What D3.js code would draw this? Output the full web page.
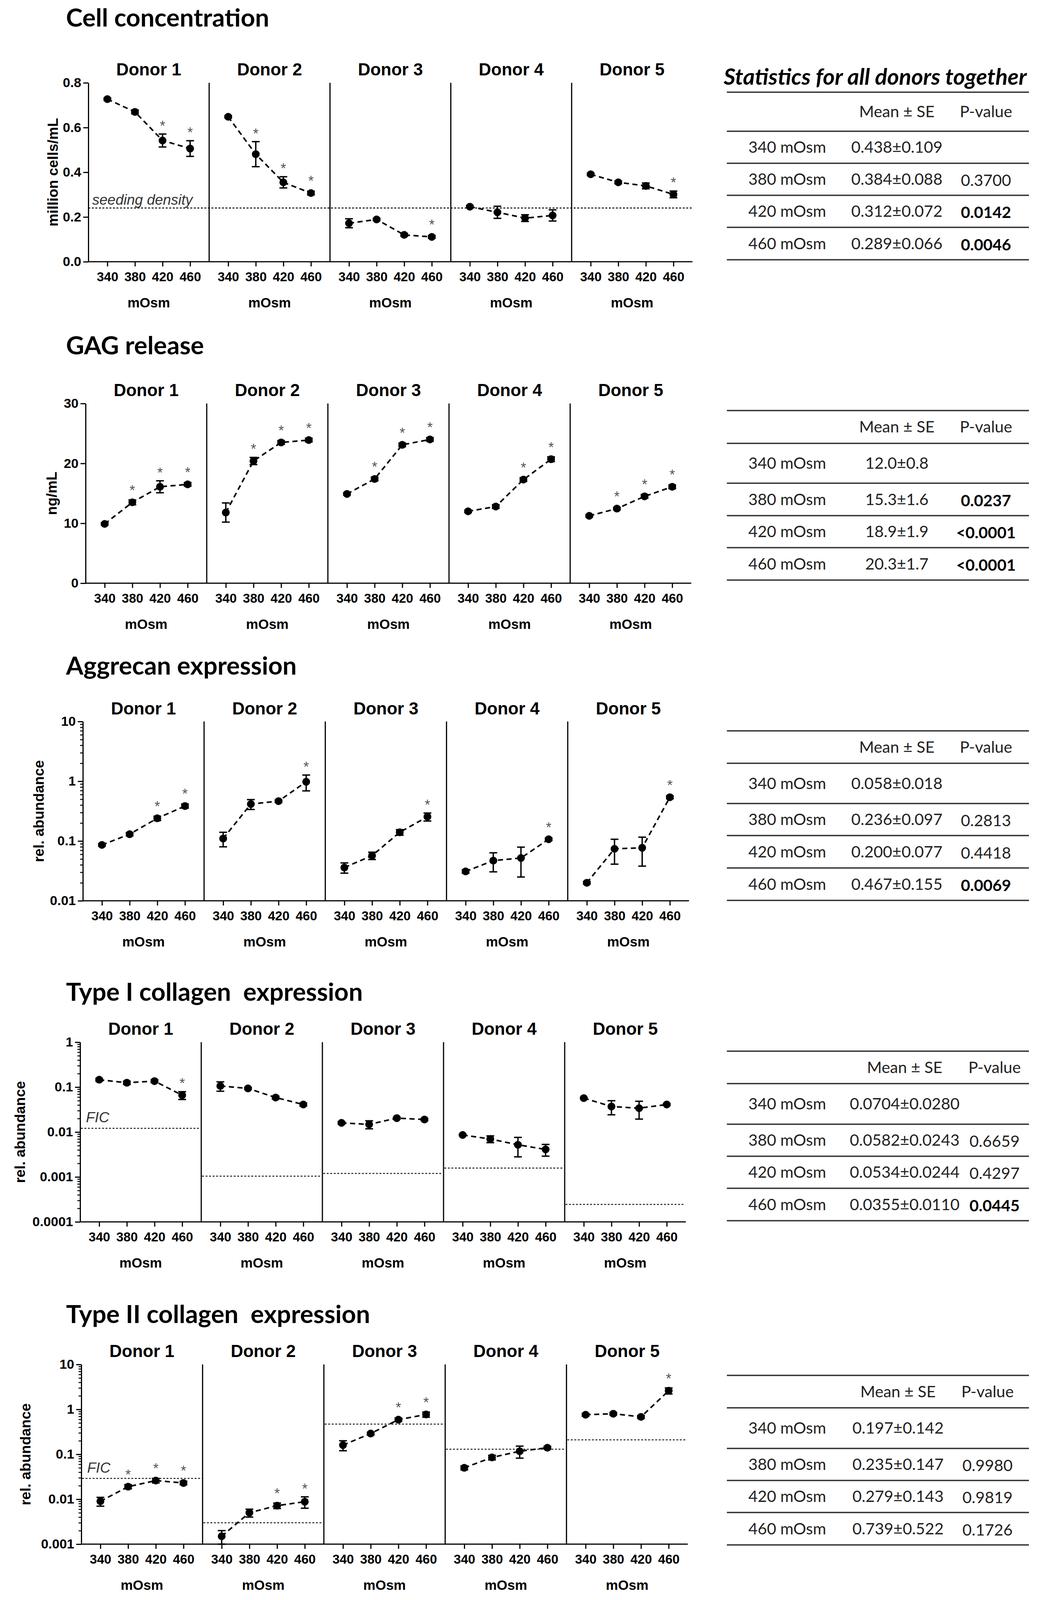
<html>
<head>
<script src="https://d3js.org/d3.v7.min.js"></script>
<style>
  body { margin: 0; background: #fff; }
  .rowtitle { font-family: Lato, "Open Sans", sans-serif; font-weight: bold; font-size: 64px; fill: #000; white-space: pre; }
  .ax text { font-family: "Liberation Sans", Arial, sans-serif; font-weight: bold; font-size: 34px; fill: #000; }
  .donor { font-family: "Liberation Sans", Arial, sans-serif; font-weight: bold; font-size: 44px; }
  .xlab { font-family: "Liberation Sans", Arial, sans-serif; font-weight: bold; font-size: 35px; }
  .ylab { font-family: "Liberation Sans", Arial, sans-serif; font-weight: bold; font-size: 37px; }
  .star { font-family: "Liberation Sans", Arial, sans-serif; font-size: 36px; fill: #555; }
  .note { font-family: "Liberation Sans", Arial, sans-serif; font-style: italic; font-size: 37px; fill: #333; }
  .tab { font-family: Lato, "Open Sans", sans-serif; font-size: 41px; fill: #222; }
  .tabtitle { font-family: Lato, "Open Sans", sans-serif; font-size: 58px; font-weight: bold; font-style: italic; }
</style>
</head>
<body>
<script>
// ---- data ----
var doses = ["340", "380", "420", "460"];
var donorNames = ["Donor 1", "Donor 2", "Donor 3", "Donor 4", "Donor 5"];

var cellTicks = [0, 0.2, 0.4, 0.6, 0.8];
var cellMean = [[0.727, 0.670, 0.542, 0.506], [0.648, 0.481, 0.355, 0.307], [0.172, 0.189, 0.120, 0.111], [0.246, 0.221, 0.195, 0.207], [0.391, 0.355, 0.339, 0.301]];
var cellSE = [[0.005, 0.008, 0.029, 0.035], [0.005, 0.056, 0.025, 0.008], [0.02, 0.005, 0.006, 0.006], [0.005, 0.027, 0.015, 0.025], [0.005, 0.006, 0.013, 0.015]];
var cellSig = [[0, 0, 1, 1], [0, 1, 1, 1], [0, 0, 0, 1], [0, 0, 0, 0], [0, 0, 0, 1]];
var seedingDensity = 0.24;

var gagTicks = [0, 10, 20, 30];
var gagMean = [[9.9, 13.5, 16.1, 16.5], [11.8, 20.4, 23.5, 23.9], [14.9, 17.4, 23.1, 24.0], [12.0, 12.8, 17.3, 20.7], [11.25, 12.45, 14.5, 16.1]];
var gagSE = [[0.2, 0.4, 1.0, 0.3], [1.6, 0.6, 0.3, 0.3], [0.2, 0.3, 0.3, 0.3], [0.2, 0.3, 0.3, 0.4], [0.2, 0.2, 0.3, 0.3]];
var gagSig = [[0, 1, 1, 1], [0, 1, 1, 1], [0, 1, 1, 1], [0, 0, 1, 1], [0, 1, 1, 1]];

var aggTicks = [0.01, 0.1, 1, 10];
var aggMean = [[0.086, 0.130, 0.240, 0.385], [0.110, 0.415, 0.465, 0.98], [0.036, 0.057, 0.140, 0.255], [0.031, 0.047, 0.052, 0.107], [0.020, 0.074, 0.077, 0.54]];
var aggSE = [[0.004, 0.008, 0.02, 0.03], [0.03, 0.078, 0.02, 0.29], [0.007, 0.008, 0.015, 0.039], [0.002, 0.0165, 0.027, 0.005], [0.001, 0.033, 0.039, 0.03]];
var aggSig = [[0, 0, 1, 1], [0, 0, 0, 1], [0, 0, 0, 1], [0, 0, 0, 1], [0, 0, 0, 1]];

var col1Ticks = [0.0001, 0.001, 0.01, 0.1, 1];
var col1Mean = [[0.146, 0.125, 0.136, 0.066], [0.106, 0.0935, 0.0586, 0.041], [0.016, 0.0148, 0.0204, 0.019], [0.0086, 0.0070, 0.0052, 0.0041], [0.0569, 0.037, 0.0339, 0.041]];
var col1SE = [[0.01, 0.01, 0.01, 0.013], [0.025, 0.005, 0.004, 0.003], [0.001, 0.003, 0.001, 0.001], [0.0003, 0.0012, 0.0024, 0.0012], [0.002, 0.0128, 0.0145, 0.002]];
var col1Sig = [[0, 0, 0, 1], [0, 0, 0, 0], [0, 0, 0, 0], [0, 0, 0, 0], [0, 0, 0, 0]];
var col1FIC = [0.0121, 0.00104, 0.0012, 0.00158, 0.000245];

var col2Ticks = [0.001, 0.01, 0.1, 1, 10];
var col2Mean = [[0.009, 0.019, 0.026, 0.023], [0.0015, 0.005, 0.0072, 0.0088], [0.16, 0.29, 0.59, 0.77], [0.050, 0.085, 0.117, 0.14], [0.76, 0.8, 0.68, 2.6]];
var col2SE = [[0.002, 0.002, 0.003, 0.002], [0.0005, 0.001, 0.001, 0.0025], [0.04, 0.02, 0.05, 0.1], [0.005, 0.01, 0.035, 0.01], [0.05, 0.05, 0.05, 0.4]];
var col2Sig = [[0, 1, 1, 1], [0, 0, 1, 1], [0, 0, 1, 1], [0, 0, 0, 0], [0, 0, 0, 1]];
var col2FIC = [0.029, 0.003, 0.47, 0.13, 0.21];

var statLabels = ["340 mOsm", "380 mOsm", "420 mOsm", "460 mOsm"];
var cellStat = ["0.438±0.109", "0.384±0.088", "0.312±0.072", "0.289±0.066"];
var cellP = ["", "0.3700", "0.0142", "0.0046"];
var gagStat = ["12.0±0.8", "15.3±1.6", "18.9±1.9", "20.3±1.7"];
var gagP = ["", "0.0237", "<0.0001", "<0.0001"];
var aggStat = ["0.058±0.018", "0.236±0.097", "0.200±0.077", "0.467±0.155"];
var aggP = ["", "0.2813", "0.4418", "0.0069"];
var col1Stat = ["0.0704±0.0280", "0.0582±0.0243", "0.0534±0.0244", "0.0355±0.0110"];
var col1P = ["", "0.6659", "0.4297", "0.0445"];
var col2Stat = ["0.197±0.142", "0.235±0.147", "0.279±0.143", "0.739±0.522"];
var col2P = ["", "0.9980", "0.9819", "0.1726"];

// ---- drawing ----
var svg = d3.select("body").append("svg").attr("width", 2692).attr("height", 4104);
svg.append("rect").attr("width", 2692).attr("height", 4104).attr("fill", "#fff");

function drawRow(c) {
    svg.append("text").attr("class", "rowtitle").attr("x", 169).attr("y", c.titleY)
        .attr("xml:space", "preserve").text(c.title);

    var y = c.log ? d3.scaleLog().domain([c.ticks[0], c.ticks[c.ticks.length - 1]]).range([c.yBot, c.yTop])
                  : d3.scaleLinear().domain([c.ticks[0], c.ticks[c.ticks.length - 1]]).range([c.yBot, c.yTop]);
    var panelW = (c.xEnd - c.x0) / donorNames.length;

    // y axis
    if (c.log) {
        var minor = [];
        for (var k = 0; k < c.ticks.length - 1; k++)
            for (var j = 2; j <= 9; j++) minor.push(c.ticks[k] * j);
        svg.append("g").attr("class", "ax").attr("transform", "translate(" + c.x0 + ",0)")
            .call(d3.axisLeft(y).tickValues(minor).tickSize(7).tickSizeOuter(0).tickFormat(""))
            .call(function(a) { a.selectAll("path,line").attr("stroke", "#000").attr("stroke-width", 2.5); });
    }
    svg.append("g").attr("class", "ax").attr("transform", "translate(" + c.x0 + ",0)")
        .call(d3.axisLeft(y).tickValues(c.ticks).tickSize(13).tickSizeOuter(0).tickPadding(5).tickFormat(c.fmt))
        .call(function(a) { a.selectAll("path,line").attr("stroke", "#000").attr("stroke-width", 3); });

    svg.append("text").attr("class", "ylab").attr("text-anchor", "middle")
        .attr("transform", "translate(" + c.ylabX + "," + (c.yTop + c.yBot) / 2 + ") rotate(-90)")
        .text(c.ylab);

    // continuous x axis line
    svg.append("line").attr("x1", c.x0).attr("x2", c.xEnd).attr("y1", c.yBot).attr("y2", c.yBot)
        .attr("stroke", "#000").attr("stroke-width", 3);

    if (c.seed !== undefined) {
        svg.append("line").attr("x1", c.x0).attr("x2", c.xEnd).attr("y1", y(c.seed)).attr("y2", y(c.seed))
            .attr("stroke", "#000").attr("stroke-width", 2.5).attr("stroke-dasharray", "5,4");
        svg.append("text").attr("class", "note").attr("x", c.x0 + 10).attr("y", y(c.seed) - 9).text("seeding density");
    }

    donorNames.forEach(function(name, i) {
        var px0 = c.x0 + i * panelW;
        var x = d3.scalePoint().domain(doses).range([px0, px0 + panelW]).padding(0.69);
        var g = svg.append("g");

        g.append("text").attr("class", "donor").attr("text-anchor", "middle")
            .attr("x", px0 + panelW / 2).attr("y", c.donorY).text(name);
        g.append("text").attr("class", "xlab").attr("text-anchor", "middle")
            .attr("x", px0 + panelW / 2).attr("y", c.yBot + 117).text("mOsm");

        if (i > 0) {
            g.append("line").attr("x1", px0).attr("x2", px0).attr("y1", c.yTop).attr("y2", c.yBot)
                .attr("stroke", "#000").attr("stroke-width", 3);
        }

        g.append("g").attr("class", "ax").attr("transform", "translate(0," + c.yBot + ")")
            .call(d3.axisBottom(x).tickSize(12).tickSizeOuter(0).tickPadding(15))
            .call(function(a) {
                a.select(".domain").remove();
                a.selectAll("line").attr("stroke", "#000").attr("stroke-width", 3);
                a.selectAll("text").style("font-size", "33px");
            });

        if (c.fic) {
            g.append("line").attr("x1", px0 + 2).attr("x2", px0 + panelW - 2)
                .attr("y1", y(c.fic[i])).attr("y2", y(c.fic[i]))
                .attr("stroke", "#222").attr("stroke-width", 2.5).attr("stroke-dasharray", "5,4");
            if (i === 0) {
                g.append("text").attr("class", "note").attr("x", px0 + 15).attr("y", y(c.fic[i]) - 15).text("FIC");
            }
        }

        var pts = doses.map(function(d, k) {
            var m = c.mean[i][k], e = c.se[i][k];
            var lo = c.log ? Math.max(m - e, m * 0.05) : m - e;
            return { dose: d, m: m, lo: lo, hi: m + e, sig: c.sig[i][k] };
        });

        g.append("path").datum(pts)
            .attr("d", d3.line().x(function(p) { return x(p.dose); }).y(function(p) { return y(p.m); }))
            .attr("fill", "none").attr("stroke", "#000").attr("stroke-width", 4).attr("stroke-dasharray", "13,9");

        var eb = g.selectAll(".eb").data(pts).enter().append("g");
        eb.append("line").attr("x1", function(p) { return x(p.dose); }).attr("x2", function(p) { return x(p.dose); })
            .attr("y1", function(p) { return y(p.lo); }).attr("y2", function(p) { return y(p.hi); })
            .attr("stroke", "#000").attr("stroke-width", 3.5);
        ["lo", "hi"].forEach(function(key) {
            eb.append("line").attr("x1", function(p) { return x(p.dose) - 10; }).attr("x2", function(p) { return x(p.dose) + 10; })
                .attr("y1", function(p) { return y(p[key]); }).attr("y2", function(p) { return y(p[key]); })
                .attr("stroke", "#000").attr("stroke-width", 3.5);
        });

        g.selectAll(".pt").data(pts).enter().append("circle")
            .attr("cx", function(p) { return x(p.dose); }).attr("cy", function(p) { return y(p.m); })
            .attr("r", 10).attr("fill", "#000");

        g.selectAll(".star").data(pts.filter(function(p) { return p.sig; })).enter().append("text")
            .attr("class", "star").attr("text-anchor", "middle")
            .attr("x", function(p) { return x(p.dose); })
            .attr("y", function(p) { return Math.min(y(p.hi), y(p.m) - 10) - 8; })
            .text("*");
    });
}

function drawTable(t) {
    var g = svg.append("g");
    if (t.title) {
        g.append("text").attr("class", "tabtitle").attr("x", 1852).attr("y", t.lines[0] - 19).text(t.title);
    }
    t.lines.forEach(function(ly) {
        g.append("line").attr("x1", 1860).attr("x2", 2633).attr("y1", ly).attr("y2", ly)
            .attr("stroke", "#333").attr("stroke-width", 3.5);
    });
    function base(k) { return (t.lines[k] + t.lines[k + 1]) / 2 + 14; }
    g.append("text").attr("class", "tab").attr("text-anchor", "middle").attr("x", t.cm).attr("y", base(0)).text("Mean ± SE");
    g.append("text").attr("class", "tab").attr("text-anchor", "middle").attr("x", t.cp).attr("y", base(0)).text("P-value");
    statLabels.forEach(function(lab, k) {
        g.append("text").attr("class", "tab").attr("x", 1915).attr("y", base(k + 1)).text(lab);
        g.append("text").attr("class", "tab").attr("text-anchor", "middle").attr("x", t.cm).attr("y", base(k + 1)).text(t.stat[k]);
        var p = t.p[k];
        if (p) {
            var bold = parseFloat(p.replace("<", "")) < 0.05;
            g.append("text").attr("class", "tab").attr("text-anchor", "middle").attr("x", t.cp).attr("y", base(k + 1) + 3)
                .style("font-weight", bold ? "bold" : "normal").style("fill", bold ? "#000" : "#222").text(p);
        }
    });
}

var fmtLog = function(d) { return String(d); };

drawRow({ title: "Cell concentration", titleY: 68, donorY: 193, x0: 226, xEnd: 1772, yTop: 212, yBot: 670,
    ticks: cellTicks, fmt: d3.format(".1f"), log: false, ylab: "million cells/mL", ylabX: 148,
    mean: cellMean, se: cellSE, sig: cellSig, seed: seedingDensity });
drawRow({ title: "GAG release", titleY: 907, donorY: 1014, x0: 219, xEnd: 1769, yTop: 1033, yBot: 1493,
    ticks: gagTicks, fmt: d3.format("d"), log: false, ylab: "ng/mL", ylabX: 145,
    mean: gagMean, se: gagSE, sig: gagSig });
drawRow({ title: "Aggrecan expression", titleY: 1727, donorY: 1829, x0: 212, xEnd: 1763, yTop: 1847, yBot: 2306,
    ticks: aggTicks, fmt: fmtLog, log: true, ylab: "rel. abundance", ylabX: 112,
    mean: aggMean, se: aggSE, sig: aggSig });
drawRow({ title: "Type I collagen  expression", titleY: 2562, donorY: 2649, x0: 205, xEnd: 1755, yTop: 2668, yBot: 3128,
    ticks: col1Ticks, fmt: fmtLog, log: true, ylab: "rel. abundance", ylabX: 64,
    mean: col1Mean, se: col1SE, sig: col1Sig, fic: col1FIC });
drawRow({ title: "Type II collagen  expression", titleY: 3387, donorY: 3474, x0: 208, xEnd: 1760, yTop: 3493, yBot: 3953,
    ticks: col2Ticks, fmt: fmtLog, log: true, ylab: "rel. abundance", ylabX: 78,
    mean: col2Mean, se: col2SE, sig: col2Sig, fic: col2FIC });

drawTable({ title: "Statistics for all donors together", lines: [236, 336, 418, 500, 582, 665], cm: 2295, cp: 2523, stat: cellStat, p: cellP });
drawTable({ lines: [1051, 1135, 1237, 1320, 1402, 1485], cm: 2295, cp: 2523, stat: gagStat, p: gagP });
drawTable({ lines: [1871, 1954, 2057, 2139, 2222, 2305], cm: 2295, cp: 2523, stat: aggStat, p: aggP });
drawTable({ lines: [2691, 2774, 2878, 2960, 3042, 3125], cm: 2315, cp: 2545, stat: col1Stat, p: col1P });
drawTable({ lines: [3521, 3604, 3708, 3790, 3872, 3955], cm: 2298, cp: 2527, stat: col2Stat, p: col2P });
</script>
</body>
</html>
